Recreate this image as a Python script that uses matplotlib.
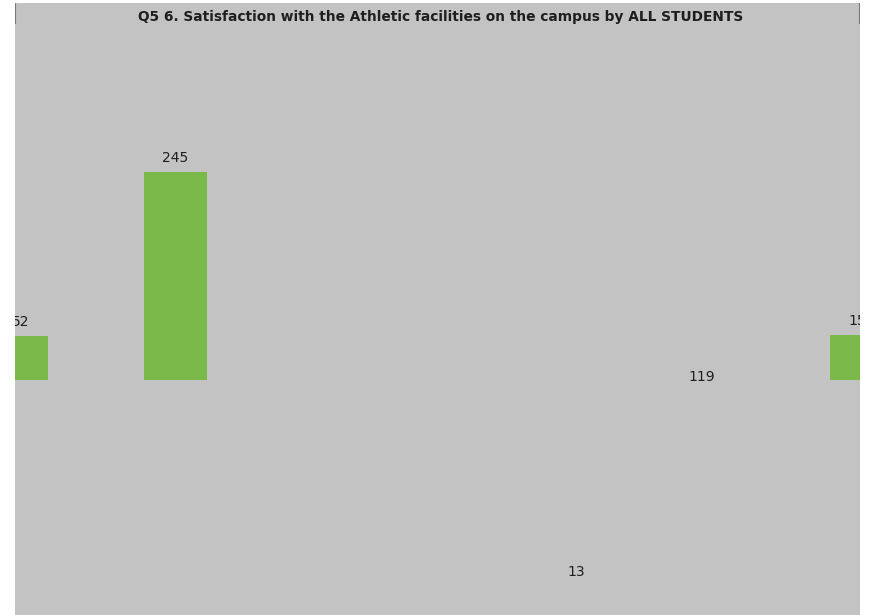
import matplotlib
matplotlib.use("Agg")
import matplotlib.pyplot as plt

# data
bar_x = [0.0, 1.0, 5.314]          # category positions of the visible bars
bar_values = [52, 245, 53]
bar_labels = ["52", "245", "153"]
label_dx = [4.5, 0, 0]             # small pixel nudges of the value labels
stray_x = [4.31, 3.52]             # labels with no visible bar
stray_y = [3, -226]
stray_labels = ["119", "13"]
title = "Q5 6. Satisfaction with the Athletic facilities on the campus by ALL STUDENTS"

bg = "#c3c3c3"
green = "#7cb94b"
txt = "#1e1e1e"

fig = plt.figure(figsize=(8.73, 6.15), dpi=100)
ax = fig.add_axes([15/873, 0, 845/873, 612/615])
ax.set_facecolor(bg)

ax.bar(bar_x, bar_values, width=0.396, color=green)

# value labels, clipped to the plot area like in the original
for x, v, lab, dx in zip(bar_x, bar_values, bar_labels, label_dx):
    ax.annotate(lab, (x, v), xytext=(dx * 0.72, 5), textcoords="offset points",
                ha="center", va="bottom", fontsize=10, color=txt,
                annotation_clip=False, clip_on=True)
for x, y, lab in zip(stray_x, stray_y, stray_labels):
    ax.text(x, y, lab, ha="center", va="center", fontsize=10, color=txt, clip_on=True)

ax.set_xlim(-0.0094, 5.305)
ax.set_ylim(-277, 444)
ax.set_xticks([])
ax.set_yticks([])
for s in ax.spines.values():
    s.set_visible(False)

# short dark edge marks at the top corners
ax.axvline(-0.0094, ymin=0.968, ymax=1, color="#777777", lw=1.5)
ax.axvline(5.305, ymin=0.968, ymax=1, color="#777777", lw=1.5)

fig.text(0.505, 1 - 21/615, title, ha="center", va="baseline",
         fontsize=9.9, fontweight="bold", color=txt)

fig.savefig("out.png", dpi=100)
